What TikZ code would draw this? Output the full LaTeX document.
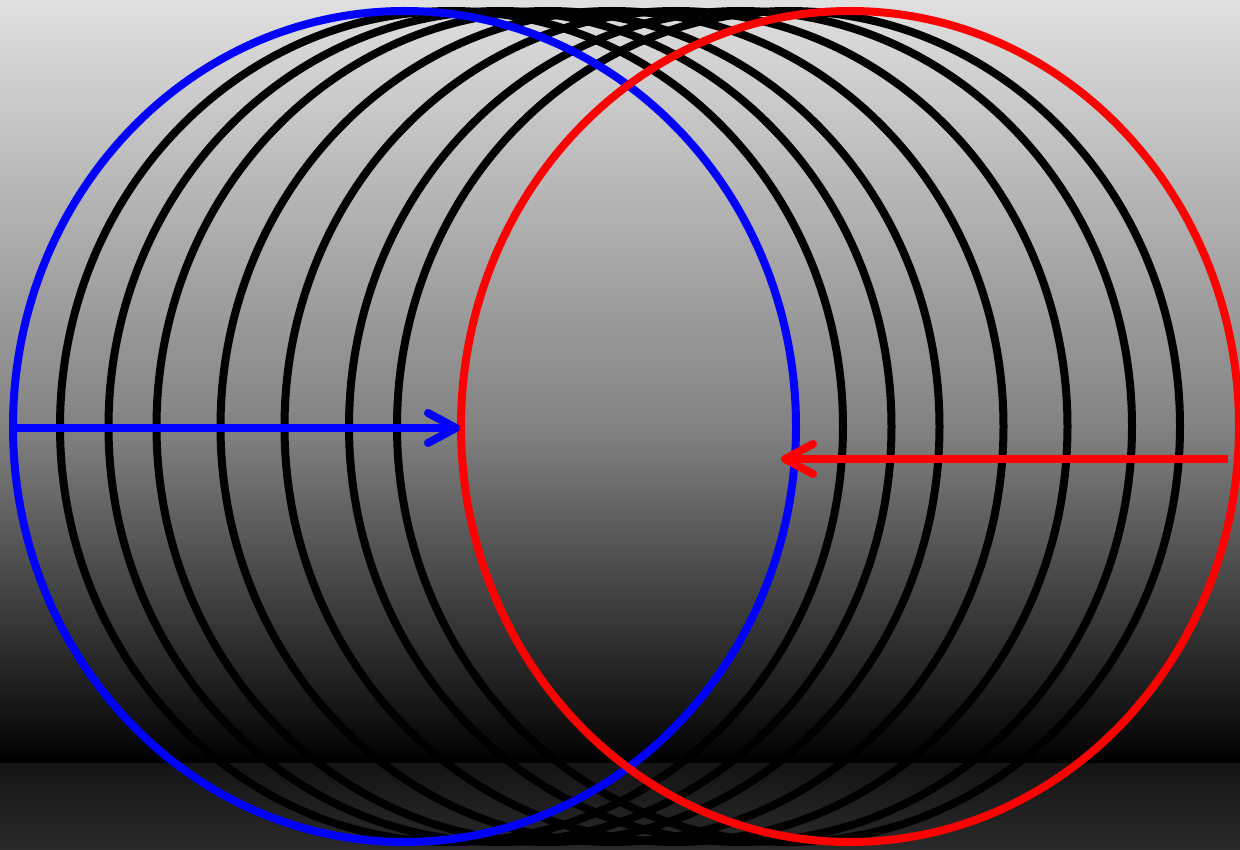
\documentclass[tikz,border=0pt]{standalone}
\usetikzlibrary{arrows.meta}
\definecolor{bgtop}{HTML}{E0E0E0}
\definecolor{bgmid}{HTML}{828282}
\definecolor{floortop}{HTML}{141414}
\definecolor{floorbot}{HTML}{2A2A2A}
\definecolor{ringblue}{HTML}{0000FF}
\definecolor{ringred}{HTML}{FF0000}

\begin{document}
\begin{tikzpicture}[
    x=1pt, y=-1pt,
    ring/.style={line width=8pt},
    arr/.style={line width=8pt, -{Straight Barb[length=28pt, width=30pt, round]}},
  ]
  \useasboundingbox (0,0) rectangle (1240,850);
  \clip (0,0) rectangle (1240,850);
  % background
  \shade[top color=bgtop, bottom color=bgmid] (0,0) rectangle (1240,428.5);
  \shade[top color=bgmid, bottom color=black] (0,428) rectangle (1240,764);
  \shade[top color=floortop, bottom color=floorbot] (0,763.5) rectangle (1240,850);
  % rings in between
  \foreach \cx in {451.5, 500, 548, 612, 676, 740.5, 788.5}
    \draw[ring, black] (\cx,426.5) ellipse [x radius=391.5, y radius=415.5];
  % start and end rings
  \draw[ring, ringblue] (404.5,426.5) ellipse [x radius=391.5, y radius=415.5];
  \draw[ring, ringred] (850,426.5) ellipse [x radius=389, y radius=415.5];
  % arrows
  \coordinate (bluestart) at (13,428);
  \coordinate (bluetip) at (460,428);
  \coordinate (redstart) at (1228,459);
  \coordinate (redtip) at (781,459);
  \draw[arr, ringblue] (bluestart) -- (bluetip);
  \draw[arr, ringred] (redstart) -- (redtip);
\end{tikzpicture}
\end{document}
